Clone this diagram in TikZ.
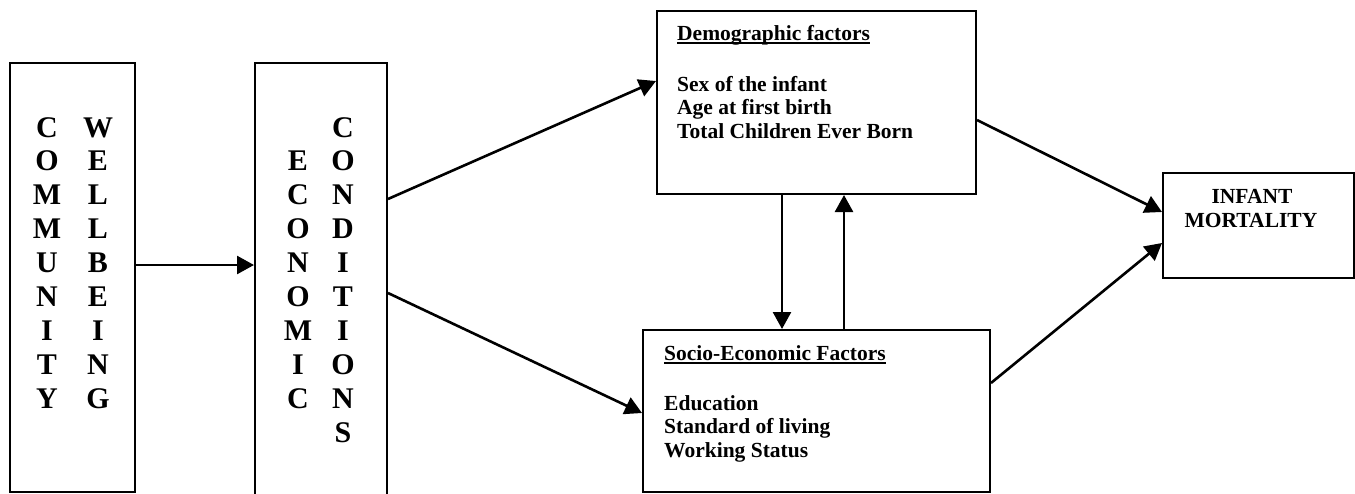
\documentclass[tikz,border=0pt]{standalone}
\usepackage{fontspec}
\setmainfont{Liberation Serif}
\usetikzlibrary{arrows.meta}
\begin{document}
\begin{tikzpicture}[x=1pt,y=-1pt,
  boxst/.style={draw, line width=2pt, rectangle, inner sep=0pt},
  arr/.style={line width=2.6pt, -{Triangle[length=17pt,width=18pt]}},
  big/.style={font=\fontsize{30}{33}\selectfont\bfseries, inner sep=0pt, anchor=base},
  small/.style={font=\fontsize{21.5}{23.7}\selectfont\bfseries, inner sep=0pt, anchor=base west}]
\clip (0,0) rectangle (1355,493);
\fill[white] (0,0) rectangle (1355,493);
% boxes
\node[boxst, minimum width=125pt, minimum height=429pt] (cw) at (72.5,277.5) {};
\node[boxst, minimum width=132pt, minimum height=470pt] (ec) at (321,298) {};
\node[boxst, minimum width=319pt, minimum height=183pt] (demo) at (816.5,102.5) {};
\node[boxst, minimum width=347pt, minimum height=162pt] (soc) at (816.5,411) {};
\node[boxst, minimum width=191pt, minimum height=105pt] (im) at (1258.5,225.5) {};
% vertical letters
\foreach \l [count=\i from 0] in {C,O,M,M,U,N,I,T,Y}
  \node[big] (cwa\i) at (47,137+33.9*\i) {\l};
\foreach \l [count=\i from 0] in {W,E,L,L,B,E,I,N,G}
  \node[big] (cwb\i) at (98,137+33.9*\i) {\l};
\foreach \l [count=\i from 1] in {E,C,O,N,O,M,I,C}
  \node[big] (eca\i) at (298,137+33.9*\i) {\l};
\foreach \l [count=\i from 0] in {C,O,N,D,I,T,I,O,N,S}
  \node[big] (ecb\i) at (343,137+33.9*\i) {\l};
% demographic text
\node[small] (dh) at (677,40) {Demographic factors};
\draw[line width=1.4pt] ([yshift=-3pt]dh.base west) -- ([yshift=-3pt]dh.base east);
\node[small] (d1) at (677,91) {Sex of the infant};
\node[small] (d2) at (677,114.5) {Age at first birth};
\node[small] (d3) at (677,138) {Total Children Ever Born};
% socio text
\node[small] (sh) at (664,360) {Socio-Economic Factors};
\draw[line width=1.4pt] ([yshift=-3pt]sh.base west) -- ([yshift=-3pt]sh.base east);
\node[small] (s1) at (664,410) {Education};
\node[small] (s2) at (664,433.5) {Standard of living};
\node[small] (s3) at (664,457) {Working Status};
% infant mortality
\node[small, anchor=base] (im1) at (1252,203) {INFANT};
\node[small, anchor=base] (im2) at (1251,227) {MORTALITY};
% arrows
\draw[arr] (cw.east |- 0,265) -- (ec.west |- 0,265);
\draw[arr] (ec.east |- 0,199) -- (demo.west |- 0,81);
\draw[arr] (ec.east |- 0,293) -- (soc.west |- 0,413);
\draw[arr] (demo.south -| 782,0) -- (soc.north -| 782,0);
\draw[arr] (soc.north -| 844,0) -- (demo.south -| 844,0);
\draw[arr] (demo.east |- 0,120) -- (im.west |- 0,212);
\draw[arr] (soc.east |- 0,383) -- (im.west |- 0,243);
\end{tikzpicture}
\end{document}
